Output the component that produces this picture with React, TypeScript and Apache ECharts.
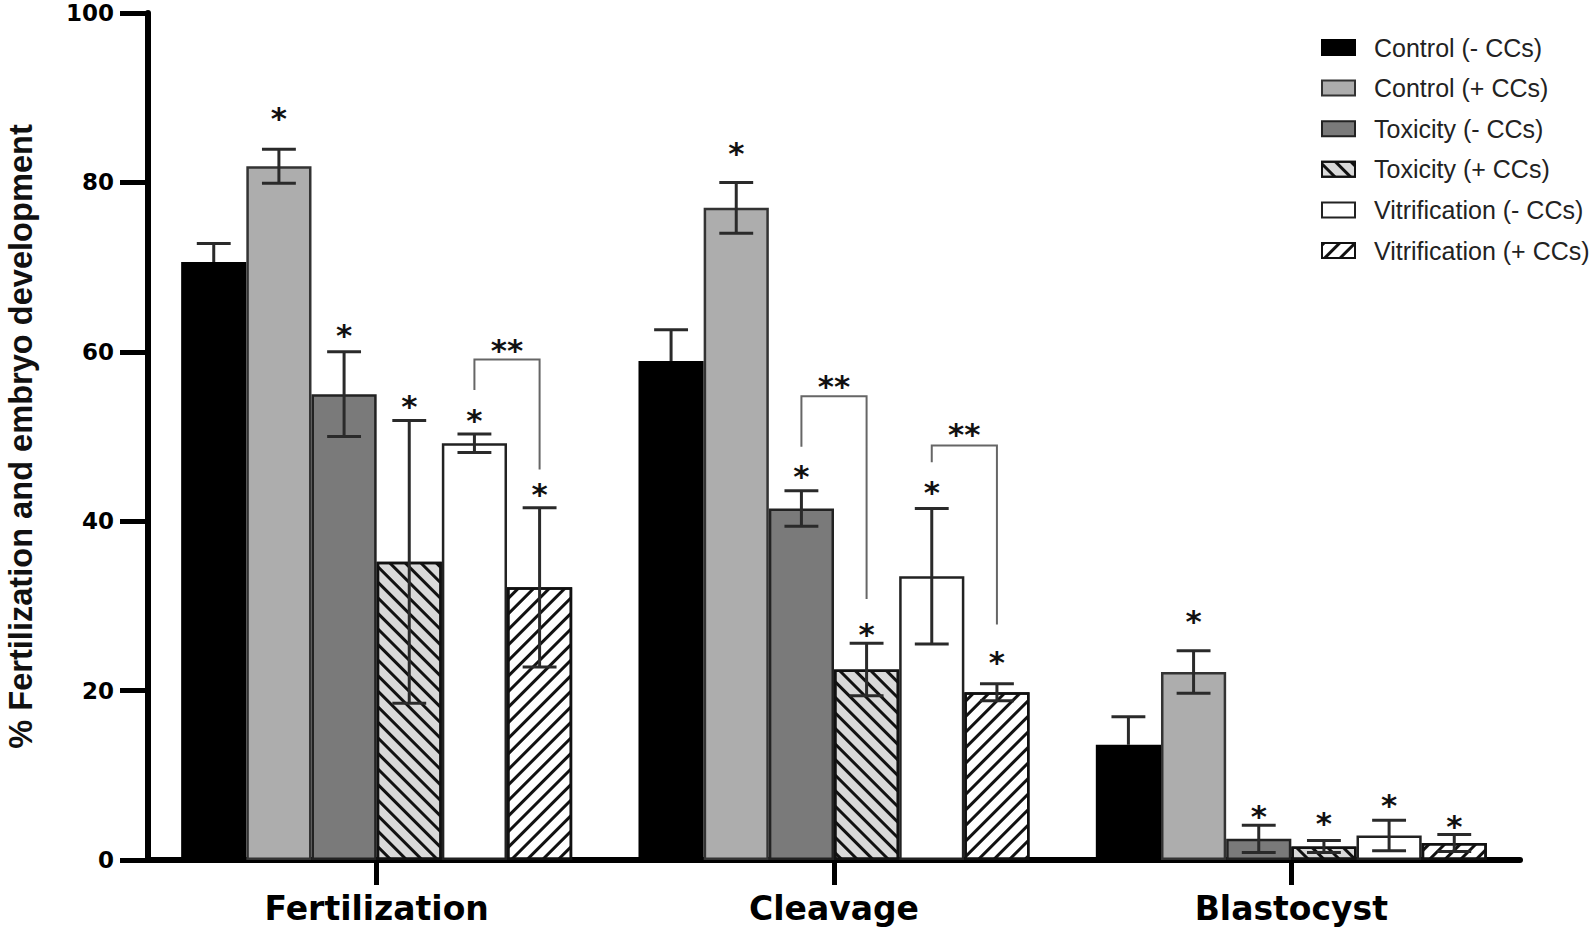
import { useEffect, useRef } from 'react';
import * as echarts from 'echarts';

const categories = ['Fertilization', 'Cleavage', 'Blastocyst'];
const seriesNames = [
  'Control (- CCs)',
  'Control (+ CCs)',
  'Toxicity (- CCs)',
  'Toxicity (+ CCs)',
  'Vitrification (- CCs)',
  'Vitrification (+ CCs)',
];
const yTickInterval = 20;

// means (%), per category
const controlMinus = [70.6, 58.9, 13.6];
const controlPlus = [81.9, 77.0, 22.2];
const toxicityMinus = [55.0, 41.5, 2.5];
const toxicityPlus = [35.2, 22.5, 1.6];
const vitrificationMinus = [49.2, 33.5, 2.9];
const vitrificationPlus = [32.2, 19.8, 2.0];

// error (SEM)
const errControlMinus = [2.2, 3.7, 3.3];
const errControlPlus = [2.0, 3.0, 2.5];
const errToxicityMinus = [5.0, 2.1, 1.6];
const errToxicityPlus = [16.7, 3.1, 0.7];
const errVitrificationMinus = [1.1, 8.0, 1.8];
const errVitrificationPlus = [9.4, 1.0, 1.0];

// significance asterisk heights (value units); null = none
const starControlMinus = [null, null, null];
const starControlPlus = [88.5, 84.4, 29.2];
const starToxicityMinus = [62.9, 46.3, 6.1];
const starToxicityPlus = [54.5, 27.6, 5.3];
const starVitrificationMinus = [52.9, 44.4, 7.4];
const starVitrificationPlus = [44.1, 24.3, 5.0];

// brackets: [category, fromSeries, toSeries, top, leftEnd, rightEnd, labelY]
const brackets = [
  [0, 4, 5, 59.1, 55.5, 46.1, 61.2],
  [1, 2, 3, 54.75, 48.8, 30.8, 56.9],
  [1, 4, 5, 48.95, 46.95, 27.8, 51.2],
];

const means = [controlMinus, controlPlus, toxicityMinus, toxicityPlus, vitrificationMinus, vitrificationPlus];
const errs = [errControlMinus, errControlPlus, errToxicityMinus, errToxicityPlus, errVitrificationMinus, errVitrificationPlus];
const stars = [starControlMinus, starControlPlus, starToxicityMinus, starToxicityPlus, starVitrificationMinus, starVitrificationPlus];

const GAP = 0.145;
const NB = 6;

const styles = [
  { color: '#000000', borderColor: '#000000' },
  { color: '#adadad', borderColor: '#333333' },
  { color: '#7a7a7a', borderColor: '#222222' },
  {
    color: '#d9d9d9',
    borderColor: '#111111',
    decal: { symbol: 'rect', symbolSize: 1, color: '#111111', dashArrayX: [1, 0], dashArrayY: [3, 8], rotation: Math.PI / 4 },
  },
  { color: '#ffffff', borderColor: '#222222' },
  {
    color: '#ffffff',
    borderColor: '#111111',
    decal: { symbol: 'rect', symbolSize: 1, color: '#111111', dashArrayX: [1, 0], dashArrayY: [3, 8], rotation: -Math.PI / 4 },
  },
];

function barX(api: any, c: number, s: number) {
  const center = api.coord([c, 0])[0];
  const band = api.size([1, 0])[0];
  const bw = (band * (1 - GAP)) / NB;
  return { x: center - (band * (1 - GAP)) / 2 + (s + 0.5) * bw, bw };
}

export default function App() {
  const ref = useRef<HTMLDivElement>(null);
  useEffect(() => {
    if (!ref.current) return;
    const chart = echarts.init(ref.current, null, { renderer: 'svg' });

    const errData: any[] = [];
    const starData: any[] = [];
    for (let s = 0; s < NB; s++) {
      for (let c = 0; c < categories.length; c++) {
        errData.push([c, s, means[s][c], errs[s][c]]);
        if (stars[s][c] != null) starData.push([c, s, stars[s][c]]);
      }
    }

    const barSeries = seriesNames.map((name, s) => ({
      type: 'bar',
      name,
      data: means[s],
      barGap: '0%',
      barCategoryGap: GAP * 100 + '%',
      itemStyle: { ...styles[s], borderWidth: 2.5 },
      emphasis: { disabled: true },
      z: 2,
    }));

    chart.setOption({
      animation: false,
      backgroundColor: '#ffffff',
      grid: { left: 148, right: 74, top: 13, bottom: 71, containLabel: false, outerBoundsMode: 'none' },
      legend: {
        data: seriesNames,
        orient: 'vertical',
        left: 1321,
        top: 35,
        padding: 0,
        itemWidth: 33,
        itemHeight: 15,
        itemGap: 15.6,
        icon: 'rect',
        textStyle: { fontFamily: 'Liberation Sans', fontSize: 25, color: '#222222', padding: [0, 0, 0, 14] },
      },
      xAxis: {
        type: 'category',
        data: categories,
        axisLine: { show: true, lineStyle: { color: '#000', width: 6 } },
        axisTick: { show: true, alignWithLabel: true, length: 25, lineStyle: { color: '#000', width: 5 } },
        axisLabel: { fontFamily: 'DejaVu Sans', fontWeight: 'bold', fontSize: 33, color: '#000', margin: 32 },
      },
      yAxis: {
        type: 'value',
        min: 0,
        max: 100,
        interval: yTickInterval,
        name: '% Fertilization and embryo development',
        nameLocation: 'middle',
        nameRotate: 90,
        nameGap: 111,
        nameTextStyle: { fontFamily: 'Liberation Sans', fontWeight: 'bold', fontSize: 32.6, color: '#111' },
        axisLine: { show: true, lineStyle: { color: '#000', width: 6 } },
        axisTick: { show: true, length: 28, lineStyle: { color: '#000', width: 5 } },
        axisLabel: { fontFamily: 'DejaVu Sans', fontWeight: 'bold', fontSize: 23, lineHeight: 22, color: '#000', margin: 34 },
        splitLine: { show: false },
      },
      series: [
        ...barSeries,
        {
          type: 'custom',
          name: 'errors',
          data: errData,
          encode: { x: 0, y: 2 },
          z: 4,
          silent: true,
          renderItem: (params: any, api: any) => {
            const c = api.value(0);
            const s = api.value(1);
            const m = api.value(2);
            const e = api.value(3);
            const { x, bw } = barX(api, c, s);
            const top = api.coord([c, m + e])[1];
            const mid = api.coord([c, m])[1];
            const bot = api.coord([c, m - e])[1];
            const hw = bw * 0.26;
            const st = { stroke: '#2a2a2a', lineWidth: 3 };
            const children: any[] = [
              { type: 'line', shape: { x1: x, y1: top, x2: x, y2: s === 0 ? mid : bot }, style: st },
              { type: 'line', shape: { x1: x - hw, y1: top, x2: x + hw, y2: top }, style: st },
            ];
            if (s !== 0) children.push({ type: 'line', shape: { x1: x - hw, y1: bot, x2: x + hw, y2: bot }, style: st });
            return { type: 'group', children };
          },
        },
        {
          type: 'custom',
          name: 'stars',
          data: starData,
          encode: { x: 0, y: 2 },
          z: 5,
          silent: true,
          renderItem: (params: any, api: any) => {
            const c = api.value(0);
            const s = api.value(1);
            const yv = api.value(2);
            const { x } = barX(api, c, s);
            const y = api.coord([c, yv])[1];
            return {
              type: 'text',
              style: {
                text: '*',
                x,
                y: y + 8,
                align: 'center',
                verticalAlign: 'middle',
                font: 'bold 31px "DejaVu Sans"',
                fill: '#111',
              },
            };
          },
        },
        {
          type: 'custom',
          name: 'brackets',
          data: brackets,
          encode: { x: 0, y: 3 },
          z: 5,
          silent: true,
          renderItem: (params: any, api: any) => {
            const c = api.value(0);
            const s1 = api.value(1);
            const s2 = api.value(2);
            const xl = barX(api, c, s1).x;
            const xr = barX(api, c, s2).x;
            const yt = api.coord([c, api.value(3)])[1];
            const yl = api.coord([c, api.value(4)])[1];
            const yr = api.coord([c, api.value(5)])[1];
            const ys = api.coord([c, api.value(6)])[1];
            return {
              type: 'group',
              children: [
                {
                  type: 'polyline',
                  shape: { points: [[xl, yl], [xl, yt], [xr, yt], [xr, yr]] },
                  style: { stroke: '#666', lineWidth: 2, fill: 'none' },
                },
                {
                  type: 'text',
                  style: {
                    text: '**',
                    x: (xl + xr) / 2,
                    y: ys + 8,
                    align: 'center',
                    verticalAlign: 'middle',
                    font: 'bold 31px "DejaVu Sans"',
                    fill: '#111',
                  },
                },
              ],
            };
          },
        },
      ],
    });
    return () => chart.dispose();
  }, []);
  return <div ref={ref} style={{ position: 'fixed', left: 0, top: 0, width: 1594, height: 931 }} />;
}
